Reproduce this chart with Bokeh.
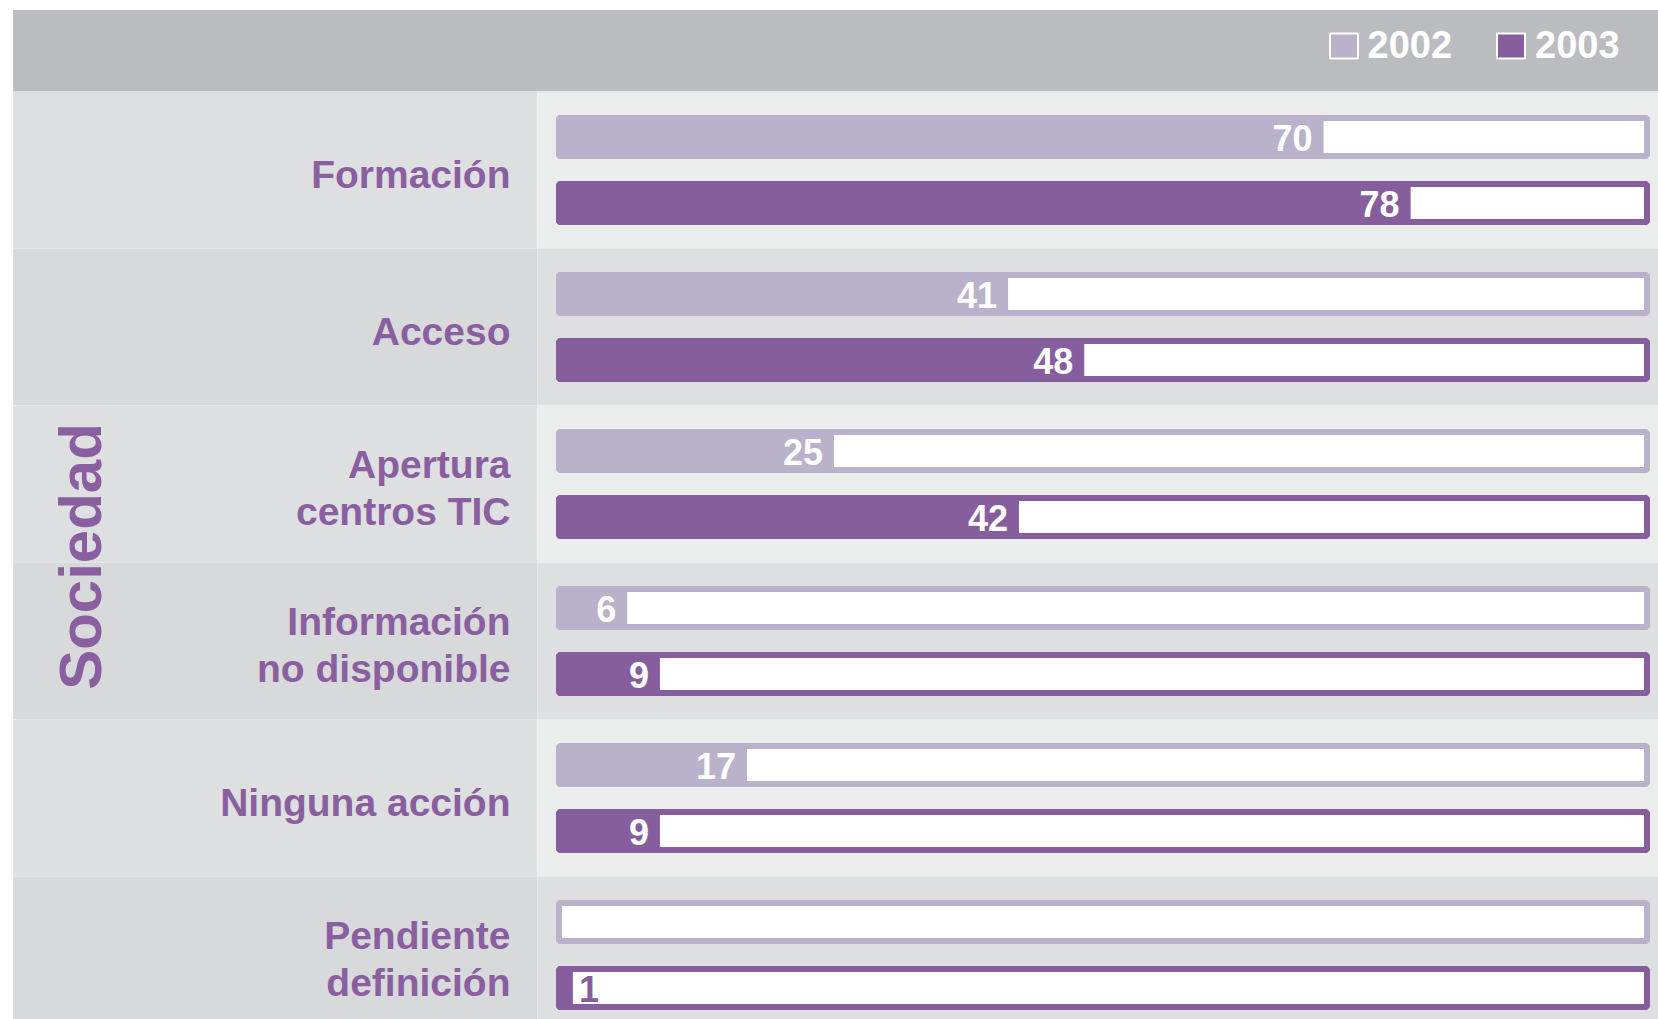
import math
from bokeh.plotting import figure
from bokeh.models import Range1d, ColumnDataSource, Legend, LegendItem
from bokeh.embed import file_html
from bokeh.resources import INLINE
from bokeh.core.properties import value

# ---------------- data ----------------
categories = ["Formación", "Acceso", "Apertura\ncentros TIC",
              "Información\nno disponible", "Ninguna acción", "Pendiente\ndefinición"]
v2002 = [70, 41, 25, 6, 17, 0]
v2003 = [78, 48, 42, 9, 9, 1]
series_names = ["2002", "2003"]
group_title = "Sociedad"
axis_max = 100

# ---------------- style ----------------
C2002 = "#BAB1CA"
C2003 = "#865E9E"
TXT = "#8A5FA0"
HEADER = "#BBBCBF"
LABEL_BG = ["#DEDFE1", "#D8D9DB"]
BAR_BG = ["#EBECEC", "#DEDFE1"]
FONT = "Liberation Sans"

W, H = 1658, 1019
PX_PER_UNIT = 10.88
ZERO_PX = 558.5
ROW_PX = 157.0
ROW0_TOP_PX = 91.0


def xd(px):
    return (px - ZERO_PX) / PX_PER_UNIT


def yd(py):
    return 0.5 + (ROW0_TOP_PX - py) / ROW_PX


p = figure(width=W, height=H,
           x_range=Range1d(xd(0), xd(W)), y_range=Range1d(yd(H), yd(0)),
           output_backend="svg", toolbar_location=None,
           x_axis_type=None, y_axis_type=None, min_border=0)
p.grid.visible = False
p.outline_line_color = None
p.background_fill_color = "white"
p.border_fill_color = "white"

n = len(categories)
row_y = [-k for k in range(n)]

left_edge = xd(12.7)
col_split = xd(537)
right_edge = xd(W)

# header band
p.quad(left=[left_edge], right=[right_edge], bottom=[0.5], top=[yd(9.5)],
       fill_color=HEADER, line_color=None)

# row backgrounds
bg = ColumnDataSource(dict(
    top=[y + 0.5 for y in row_y], bottom=[y - 0.5 for y in row_y],
    lc=[LABEL_BG[k % 2] for k in range(n)], bc=[BAR_BG[k % 2] for k in range(n)]))
p.quad(left=left_edge, right=col_split, top="top", bottom="bottom",
       fill_color="lc", line_color=None, source=bg)
p.quad(left=col_split, right=right_edge, top="top", bottom="bottom",
       fill_color="bc", line_color=None, source=bg)

off = 33.0 / ROW_PX
bh = 38.0 / ROW_PX

legend_renderers = []
for vals, col, sign in ((v2002, C2002, 1), (v2003, C2003, -1)):
    ys = [y + sign * off for y in row_y]
    src = ColumnDataSource(dict(y=ys, v=vals))
    p.hbar(y="y", left=0, right=axis_max, height=bh, fill_color="white",
           line_color=col, line_width=6, source=src)
    p.hbar(y="y", left=0, right="v", height=bh, fill_color=col,
           line_color=col, line_width=6, source=src)
    # hidden twin used only for the legend swatch (white-edged square)
    lr = p.hbar(y="y", left=0, right="v", height=bh, fill_color=col,
                line_color="white", line_width=2, source=src, visible=False)
    legend_renderers.append(lr)
    inside = dict(x=[], y=[], t=[])
    outside = dict(x=[], y=[], t=[])
    for yy, vv in zip(ys, vals):
        if vv <= 0:
            continue
        d = inside if vv >= 3 else outside
        d["x"].append(vv); d["y"].append(yy); d["t"].append(str(vv))
    p.text(x="x", y="y", text="t", source=ColumnDataSource(inside),
           text_align="right", text_baseline="middle", x_offset=-8, y_offset=1,
           text_color="white", text_font=value(FONT), text_font_style="bold",
           text_font_size="36px")
    p.text(x="x", y="y", text="t", source=ColumnDataSource(outside),
           text_align="left", text_baseline="middle", x_offset=9, y_offset=1,
           text_color=C2003, text_font=value(FONT), text_font_style="bold",
           text_font_size="36px")

# category labels
p.text(x=xd(510), y=row_y, text=categories, text_align="right",
       text_baseline="middle", y_offset=4, text_color=TXT,
       text_font=value(FONT), text_font_style="bold", text_font_size="39px",
       text_line_height=1.09)

# group title
p.text(x=[xd(79.5)], y=[yd(556)], text=[group_title], angle=math.pi / 2,
       text_align="center", text_baseline="middle", text_color=TXT,
       text_font=value(FONT), text_font_style="bold", text_font_size="60px")

# legend
legend = Legend(items=[LegendItem(label=series_names[0], renderers=[legend_renderers[0]]),
                       LegendItem(label=series_names[1], renderers=[legend_renderers[1]])],
                orientation="horizontal", location=(1325.5, H - 67),
                padding=0, margin=0, spacing=41, label_standoff=7,
                glyph_width=35, glyph_height=31,
                label_text_font=FONT, label_text_font_style="bold",
                label_text_font_size="38px", label_text_color="white",
                background_fill_alpha=0, border_line_alpha=0,
                inactive_fill_alpha=0)
p.add_layout(legend, "center")

open("out.html", "w").write(file_html(p, INLINE))
